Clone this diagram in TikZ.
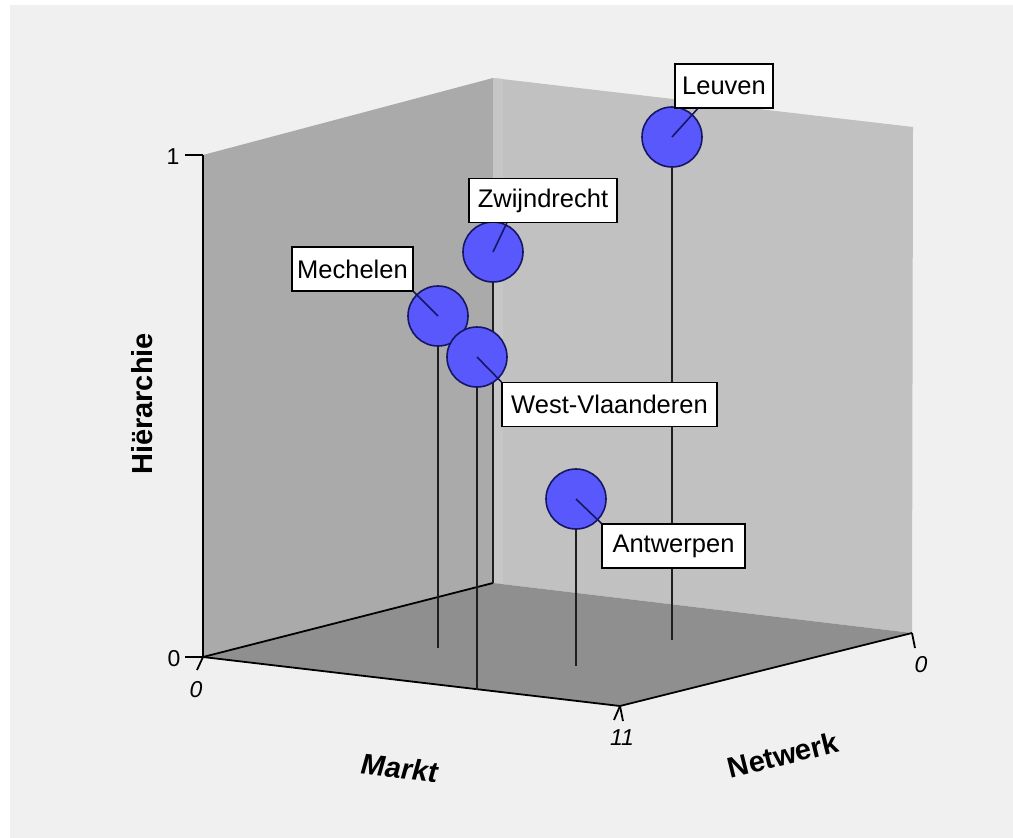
\documentclass[tikz,border=0pt]{standalone}
\usepackage{fontspec}
\setmainfont{Liberation Sans}
\usetikzlibrary{calc}
\definecolor{panel}{RGB}{240,240,240}
\definecolor{leftwall}{RGB}{170,170,170}
\definecolor{rightwall}{RGB}{193,193,193}
\definecolor{floorgray}{RGB}{143,143,143}
\definecolor{dotblue}{RGB}{88,88,252}
\definecolor{dotline}{RGB}{22,22,100}
\definecolor{stem}{RGB}{30,30,30}
\begin{document}
\begin{tikzpicture}[x=1pt,y=-1pt,
  edge/.style={draw=black,line width=1.8pt},
  tick/.style={draw=black,line width=1.8pt},
  stemline/.style={draw=stem,line width=2.4pt},
  dot/.style={circle,minimum size=60pt,inner sep=0pt,fill=dotblue,draw=dotline,line width=1.6pt},
  leader/.style={draw=dotline,line width=1.6pt},
  citylabel/.style={draw=black,fill=white,line width=1.2pt,inner xsep=4pt,inner ysep=0pt,
    minimum height=44pt,font=\fontsize{25.5}{28}\selectfont},
  ticklabel/.style={font=\fontsize{23}{26}\selectfont,inner sep=0pt},
  slantlabel/.style={font=\fontsize{23}{26}\selectfont\itshape,inner sep=0pt},
  axistitle/.style={font=\fontsize{29}{32}\selectfont\bfseries,inner sep=0pt}]
% page and panel
\fill[white] (0,0) rectangle (1013,838);
\fill[panel] (10,5) rectangle (1013,838);
\useasboundingbox (0,0) rectangle (1013,838);

% box corners
\coordinate (O) at (203,657);
\coordinate (T) at (203,155);
\coordinate (BT) at (493,78);
\coordinate (B) at (493,583);
\coordinate (RT) at (913,127);
\coordinate (R) at (912,633);
\coordinate (F) at (620,706);

% walls and floor
\fill[leftwall] (O) -- (T) -- (BT) -- (B) -- cycle;
\fill[rightwall] (BT) -- (RT) -- (R) -- (B) -- cycle;
\fill[rightwall!92!white] (493,78) -- (503,79) -- (503,584) -- (493,583) -- cycle;
\fill[floorgray] (O) -- (B) -- (R) -- (F) -- cycle;

% axes
\draw[edge] (T) -- (O) -- (F) -- (R);
\draw[edge] (O) -- (B);

% ticks
\coordinate (t1) at (185,155);
\coordinate (t0) at (185,657);
\coordinate (m0) at (197,670);
\coordinate (m11) at (614,720);
\coordinate (n11) at (623,721);
\coordinate (n0) at (915,648);
\draw[tick] (T) -- (t1);
\draw[tick] (O) -- (t0);
\draw[tick] (O) -- (m0);
\draw[tick] (F) -- (m11);
\draw[tick] (F) -- (n11);
\draw[tick] (R) -- (n0);

% tick labels
\node[ticklabel] (l1) at (173,157) {1};
\node[ticklabel] (l0) at (174,659) {0};
\node[slantlabel] (lm0) at (196,690) {0};
\node[slantlabel] (l11) at (622,738) {11};
\node[slantlabel] (ln0) at (921,665) {0};

% axis titles
\node[axistitle,rotate=90] (hier) at (142,404) {Hiërarchie};
\node[axistitle,rotate=-7,xslant=0.15] (markt) at (400,768) {Markt};
\node[axistitle,rotate=14] (netw) at (783,755) {Netwerk};

% data point centres and floor feet
\coordinate (leuC) at (672,137);
\coordinate (zwC) at (493,252);
\coordinate (meC) at (438,316);
\coordinate (wvC) at (477,357);
\coordinate (anC) at (576,499);
\coordinate (leuF) at (672,640);
\coordinate (zwF) at (493,583);
\coordinate (meF) at (438,648);
\coordinate (wvF) at (477,690);
\coordinate (anF) at (576,666);

% drop lines
\draw[stemline] (leuC) -- (leuF);
\draw[stemline] (zwC) -- (zwF);
\draw[stemline] (meC) -- (meF);
\draw[stemline] (wvC) -- (wvF);
\draw[stemline] (anC) -- (anF);

% data points
\node[dot] (leu) at (leuC) {};
\node[dot] (zw) at (zwC) {};
\node[dot] (me) at (meC) {};
\node[dot] (wv) at (wvC) {};
\node[dot] (an) at (anC) {};

% labels
\node[citylabel,minimum width=98pt] (leuL) at (724,86) {Leuven};
\node[citylabel,minimum width=148pt] (zwL) at (543,200.5) {Zwijndrecht};
\node[citylabel,minimum width=121pt] (meL) at (352.5,269) {Mechelen};
\node[citylabel,minimum width=215pt] (wvL) at (609.5,404.5) {West-Vlaanderen};
\node[citylabel,minimum width=143pt] (anL) at (673.5,546) {Antwerpen};

% leaders from points to labels
\draw[leader] (leu.center) -- ($(leuL.south west)!0.235!(leuL.south east)$);
\draw[leader] (zw.center) -- ($(zwL.south west)!0.257!(zwL.south east)$);
\draw[leader] (me.center) -- (meL.south east);
\draw[leader] (wv.center) -- (wvL.north west);
\draw[leader] (an.center) -- (anL.north west);
\end{tikzpicture}
\end{document}
